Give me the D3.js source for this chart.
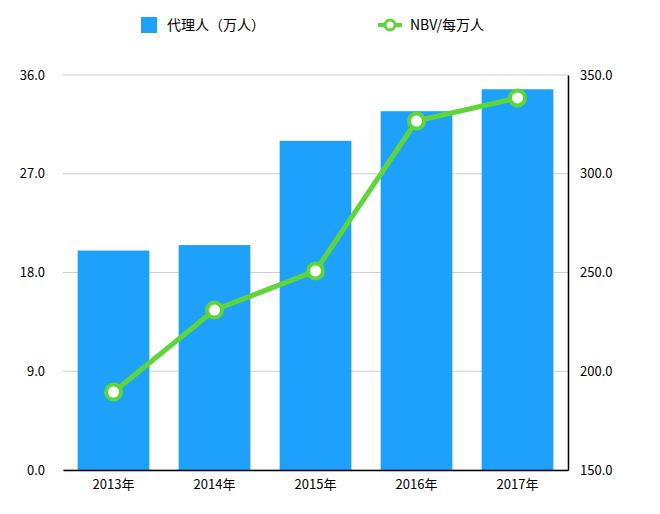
<!DOCTYPE html>
<html><head><meta charset="utf-8">
<script src="https://cdn.jsdelivr.net/npm/d3@7"></script>
<style>body{margin:0;background:#fff}text{font-family:"Noto Sans CJK SC","Noto Sans",sans-serif}</style>
</head><body>
<svg id="c" width="660" height="514"></svg>
<script>
const categories=["2013年","2014年","2015年","2016年","2017年"];
const agents=[20.0,20.5,30.0,32.7,34.7];
const nbv=[189.5,231,250.8,326.7,338.4];
const leftTicks=[0,9,18,27,36];
const rightTicks=[150,200,250,300,350];
const svg=d3.select("#c");
const L=63,R=568,T=75,B=470;
const x=d3.scaleBand().domain(categories).range([L,R]).paddingInner(0.29).paddingOuter(0.145);
const yl=d3.scaleLinear().domain([0,36]).range([B,T]);
const yr=d3.scaleLinear().domain([150,350]).range([B,T]);
svg.selectAll(".g").data(leftTicks).enter().append("line")
 .attr("x1",L).attr("x2",R).attr("y1",d=>yl(d)).attr("y2",d=>yl(d)).attr("stroke","#d0d0d0");
svg.selectAll(".bar").data(agents).enter().append("rect")
 .attr("x",(d,i)=>x(categories[i])).attr("width",x.bandwidth())
 .attr("y",d=>yl(d)).attr("height",d=>B-yl(d)).attr("fill","#1ea1fb");
const la=svg.append("g").attr("transform",`translate(${L},0)`).call(d3.axisLeft(yl).tickValues(leftTicks).tickFormat(d3.format(".1f")).tickSize(0).tickPadding(18));
la.select(".domain").remove();
const ra=svg.append("g").attr("transform",`translate(${R},0)`).call(d3.axisRight(yr).tickValues(rightTicks).tickFormat(d3.format(".1f")).tickSize(0).tickPadding(12));
ra.select(".domain").attr("stroke","#000").attr("stroke-width",1.5);
const ba=svg.append("g").attr("transform",`translate(0,${B})`).call(d3.axisBottom(x).tickSize(0).tickPadding(10));
ba.select(".domain").attr("stroke","#000").attr("stroke-width",1.5);
svg.selectAll(".tick text").attr("font-size",13).attr("fill","#000").style("font-family",'"Noto Sans CJK SC",sans-serif');
const line=d3.line().x((d,i)=>x(categories[i])+x.bandwidth()/2).y(d=>yr(d));
svg.append("path").datum(nbv).attr("d",line).attr("fill","none").attr("stroke","#5ed63a").attr("stroke-width",5);
svg.selectAll(".pt").data(nbv).enter().append("circle")
 .attr("cx",(d,i)=>x(categories[i])+x.bandwidth()/2).attr("cy",d=>yr(d)).attr("r",7.5)
 .attr("fill","#fff").attr("stroke","#5ed63a").attr("stroke-width",4);
// legend
svg.append("rect").attr("x",141).attr("y",17).attr("width",16).attr("height",16).attr("fill","#1ea1fb");
svg.append("text").attr("x",167).attr("y",30).attr("font-size",14).text("代理人（万人）");
svg.append("line").attr("x1",378).attr("x2",402).attr("y1",25).attr("y2",25).attr("stroke","#5ed63a").attr("stroke-width",4);
svg.append("circle").attr("cx",390).attr("cy",25).attr("r",5).attr("fill","#fff").attr("stroke","#5ed63a").attr("stroke-width",3);
svg.append("text").attr("x",410).attr("y",30).attr("font-size",14).text("NBV/每万人");
</script>
</body></html>
